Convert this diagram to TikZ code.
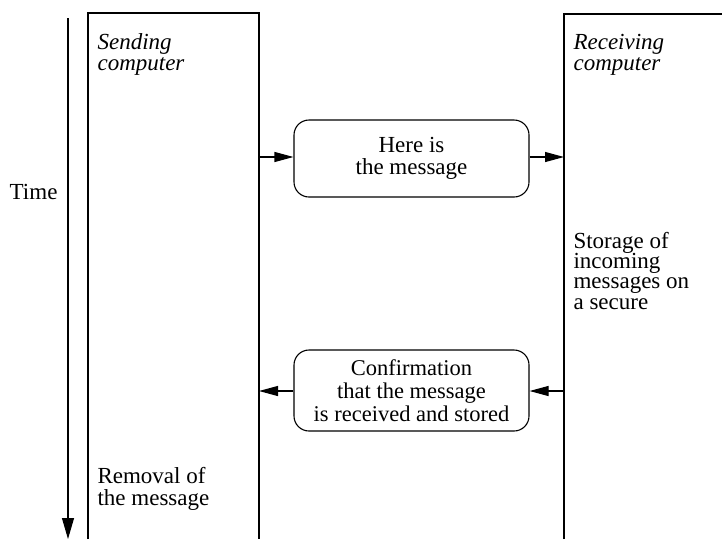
\documentclass[tikz,border=0pt]{standalone}
\usepackage{fontspec}
\setmainfont{Liberation Serif}
\usetikzlibrary{arrows.meta}
\begin{document}
\begin{tikzpicture}[x=1pt,y=-1pt,
  line width=1.1pt,
  lane/.style={line width=1.1pt},
  msgbox/.style={draw, rounded corners=15pt, minimum width=235pt, inner sep=0pt, align=center},
  arr/.style={-{Triangle[length=19pt,width=10pt]}},
  timearr/.style={-{Triangle[length=21pt,width=12pt]}},
  lbl/.style={inner sep=0pt, align=left, anchor=base west},
  txt/.style={font=\fontsize{23}{22}\selectfont}
]
\useasboundingbox (0,0) rectangle (722,539);

% time axis
\coordinate (ttop) at (68,18);
\coordinate (tbot) at (68,539);
\draw[timearr] (ttop) -- (tbot);
\node[inner sep=0pt, anchor=base east, txt] (time) at (58,199) {Time};

% sending computer lane
\draw[lane] (88,539) -- (88,13) -- (259,13) -- (259,539);
% receiving computer lane
\draw[lane] (564,539) -- (564,14) -- (722,14);

% lane texts (base anchor sits on the last line)
\node[lbl, font=\itshape\fontsize{23}{21}\selectfont] (send) at (97,70) {Sending\\computer};
\node[lbl, font=\itshape\fontsize{23}{21}\selectfont] (recv) at (573,70) {Receiving\\computer};
\node[lbl, font=\fontsize{23}{20.3}\selectfont] (store) at (573,309) {Storage of\\incoming\\messages on\\a secure};
\node[lbl, font=\fontsize{23}{22}\selectfont] (remove) at (97,505) {Removal of\\the message};

% messages
\node[msgbox, minimum height=77pt, font=\fontsize{23}{22}\selectfont] (msg) at (411.5,158.5) {Here is\\the message};
\node[msgbox, minimum height=81pt, font=\fontsize{22.5}{23}\selectfont] (conf) at (411.5,390.5) {Confirmation\\that the message\\is received and stored};

\coordinate (sendA) at (259,157);
\coordinate (recvA) at (564,157);
\coordinate (recvB) at (564,391);
\coordinate (sendB) at (259,391);
\draw[arr] (sendA) -- (msg.west |- sendA);
\draw[arr] (msg.east |- recvA) -- (recvA);
\draw[arr] (recvB) -- (conf.east |- recvB);
\draw[arr] (conf.west |- sendB) -- (sendB);
\end{tikzpicture}
\end{document}
